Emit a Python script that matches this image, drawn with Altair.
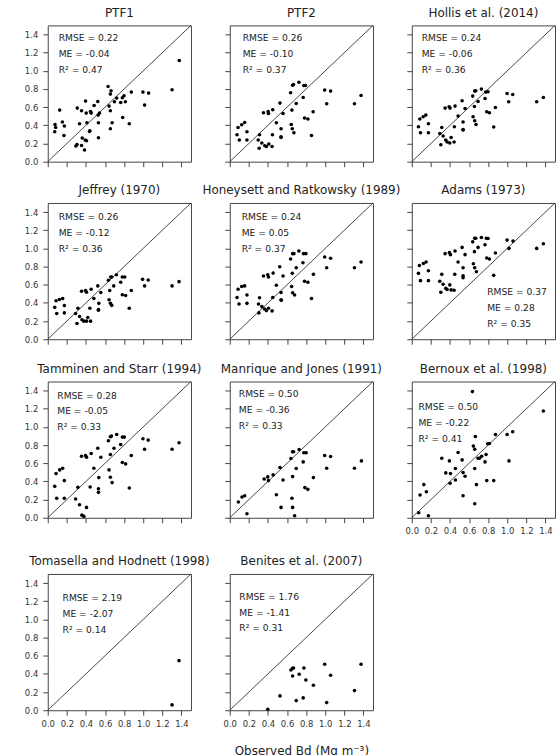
import altair as alt
import pandas as pd

# ---------------- data (observed x, predicted y) ----------------
ptf1_obs = [0.125,0.076,0.083,0.073,0.153,0.174,0.170,0.309,0.354,0.396,0.403,0.410,0.333,0.448,0.455,0.486,0.524,0.528,0.542,0.531,0.441,0.437,0.361,0.392,0.406,0.306,0.295,0.354,0.385,0.531,0.632,0.663,0.656,0.642,0.656,0.674,0.656,0.698,0.722,0.764,0.781,0.799,0.813,0.785,0.854,0.875,0.997,1.014,1.056,1.302,1.378]
ptf1_pred = [0.568,0.41,0.377,0.33,0.436,0.392,0.289,0.59,0.56,0.667,0.535,0.429,0.418,0.553,0.535,0.619,0.663,0.513,0.535,0.429,0.341,0.333,0.26,0.238,0.231,0.19,0.172,0.179,0.128,0.264,0.828,0.78,0.744,0.612,0.56,0.429,0.363,0.659,0.70,0.652,0.703,0.725,0.659,0.487,0.418,0.766,0.766,0.623,0.755,0.791,1.113]

ptf2_obs = [0.087,0.100,0.076,0.125,0.156,0.180,0.180,0.312,0.298,0.308,0.336,0.353,0.367,0.384,0.402,0.405,0.409,0.443,0.450,0.447,0.488,0.526,0.537,0.537,0.537,0.558,0.637,0.658,0.668,0.651,0.644,0.655,0.672,0.696,0.724,0.776,0.793,0.769,0.783,0.818,0.856,0.873,0.994,1.056,1.015,1.306,1.375]
ptf2_pred = [0.377,0.238,0.297,0.407,0.432,0.33,0.238,0.297,0.238,0.147,0.205,0.538,0.176,0.168,0.553,0.531,0.194,0.168,0.571,0.297,0.429,0.645,0.363,0.275,0.267,0.531,0.758,0.842,0.85,0.568,0.41,0.363,0.319,0.641,0.875,0.839,0.839,0.707,0.48,0.469,0.289,0.549,0.788,0.777,0.637,0.637,0.729]

hollis_obs = [0.084,0.070,0.091,0.119,0.147,0.174,0.174,0.293,0.314,0.304,0.328,0.349,0.356,0.370,0.391,0.401,0.398,0.412,0.443,0.453,0.446,0.485,0.527,0.537,0.537,0.537,0.558,0.638,0.659,0.670,0.656,0.642,0.659,0.673,0.694,0.729,0.774,0.799,0.767,0.785,0.813,0.858,0.876,0.998,1.057,1.015,1.308,1.378]
hollis_pred = [0.469,0.385,0.319,0.495,0.513,0.418,0.319,0.311,0.377,0.187,0.282,0.59,0.238,0.216,0.604,0.59,0.205,0.267,0.216,0.612,0.385,0.502,0.67,0.436,0.355,0.348,0.586,0.722,0.777,0.78,0.608,0.495,0.451,0.41,0.663,0.799,0.766,0.769,0.696,0.549,0.538,0.381,0.597,0.751,0.74,0.659,0.659,0.707]

jeffrey_obs = [0.087,0.122,0.156,0.073,0.094,0.174,0.174,0.292,0.316,0.306,0.333,0.354,0.358,0.378,0.396,0.406,0.406,0.420,0.448,0.455,0.441,0.483,0.524,0.535,0.531,0.531,0.556,0.635,0.660,0.670,0.649,0.642,0.656,0.670,0.691,0.719,0.781,0.806,0.764,0.781,0.816,0.854,0.875,0.993,1.052,1.014,1.302,1.375]
jeffrey_pred = [0.424,0.438,0.449,0.351,0.283,0.37,0.29,0.283,0.341,0.174,0.25,0.529,0.214,0.199,0.536,0.518,0.199,0.239,0.199,0.551,0.341,0.449,0.587,0.395,0.326,0.319,0.514,0.649,0.685,0.685,0.536,0.435,0.395,0.373,0.587,0.71,0.685,0.685,0.627,0.489,0.482,0.341,0.536,0.659,0.652,0.587,0.587,0.634]

honey_obs = [0.087,0.125,0.156,0.076,0.097,0.180,0.180,0.312,0.301,0.305,0.336,0.353,0.364,0.384,0.398,0.405,0.405,0.443,0.454,0.450,0.488,0.523,0.537,0.537,0.540,0.558,0.637,0.658,0.672,0.655,0.648,0.658,0.679,0.696,0.724,0.772,0.797,0.766,0.783,0.818,0.856,0.876,0.994,1.056,1.015,1.306,1.375]
honey_pred = [0.551,0.58,0.587,0.46,0.388,0.486,0.395,0.457,0.388,0.29,0.359,0.696,0.333,0.315,0.71,0.685,0.341,0.312,0.728,0.46,0.594,0.797,0.514,0.435,0.428,0.696,0.884,0.942,0.942,0.725,0.58,0.511,0.486,0.786,0.971,0.942,0.942,0.841,0.638,0.627,0.449,0.714,0.906,0.891,0.786,0.786,0.851]

adams_obs = [0.080,0.122,0.150,0.070,0.091,0.174,0.174,0.293,0.314,0.304,0.328,0.349,0.356,0.370,0.394,0.405,0.398,0.412,0.443,0.453,0.450,0.485,0.527,0.537,0.537,0.537,0.558,0.638,0.659,0.670,0.656,0.645,0.659,0.677,0.694,0.729,0.781,0.799,0.767,0.785,0.813,0.858,0.876,0.998,1.060,1.018,1.308,1.378]
adams_pred = [0.812,0.833,0.851,0.725,0.645,0.754,0.645,0.638,0.714,0.518,0.605,0.942,0.562,0.547,0.953,0.931,0.598,0.543,0.54,0.971,0.714,0.851,1.011,0.786,0.699,0.678,0.931,1.072,1.112,1.112,0.964,0.83,0.786,0.743,1.011,1.12,1.112,1.109,1.04,0.895,0.884,0.703,0.949,1.091,1.08,1.0,1.0,1.051]

tamm_obs = [0.073,0.094,0.087,0.125,0.156,0.174,0.174,0.292,0.316,0.333,0.354,0.358,0.378,0.396,0.406,0.406,0.444,0.455,0.483,0.524,0.535,0.531,0.531,0.556,0.635,0.656,0.667,0.642,0.656,0.674,0.656,0.694,0.722,0.781,0.802,0.764,0.781,0.816,0.854,0.875,0.997,1.052,1.014,1.302,1.375]
tamm_pred = [0.346,0.214,0.486,0.527,0.545,0.409,0.214,0.206,0.335,0.144,0.678,0.029,0.015,0.685,0.667,0.114,0.339,0.707,0.545,0.766,0.442,0.32,0.28,0.667,0.847,0.892,0.899,0.527,0.446,0.387,0.696,0.766,0.917,0.888,0.888,0.807,0.608,0.593,0.328,0.685,0.87,0.855,0.755,0.755,0.825]

manr_obs = [0.090,0.128,0.156,0.180,0.360,0.398,0.405,0.454,0.488,0.526,0.537,0.558,0.641,0.658,0.668,0.651,0.658,0.658,0.679,0.696,0.727,0.776,0.800,0.769,0.786,0.817,0.876,0.994,1.056,1.015,1.306,1.379]
manr_pred = [0.173,0.228,0.243,0.044,0.427,0.45,0.409,0.472,0.254,0.553,0.114,0.416,0.652,0.726,0.726,0.214,0.114,0.453,0.022,0.542,0.752,0.715,0.715,0.615,0.332,0.313,0.442,0.685,0.674,0.545,0.545,0.626]

bern_obs = [0.635,1.378,0.666,0.645,0.659,0.795,0.813,0.876,0.998,1.057,0.485,0.314,0.394,0.527,0.694,0.732,0.708,0.778,0.767,1.018,0.457,0.659,0.356,0.405,0.537,0.558,0.457,0.401,0.126,0.677,0.785,0.858,0.153,0.087,0.537,0.659,0.073,0.174]
bern_pred = [1.389,1.175,0.895,0.789,0.755,0.814,0.818,0.917,0.917,0.947,0.718,0.656,0.626,0.637,0.656,0.678,0.656,0.696,0.615,0.626,0.542,0.542,0.494,0.486,0.497,0.457,0.416,0.380,0.365,0.365,0.409,0.409,0.287,0.251,0.243,0.155,0.055,0.022]

toma_obs = [1.375,1.302]
toma_pred = [0.546,0.059]

beni_obs = [0.398,0.526,0.696,0.769,0.641,0.658,0.668,0.658,0.727,0.776,0.797,0.876,0.994,1.056,1.015,1.306,1.375]
beni_pred = [0.011,0.158,0.106,0.136,0.443,0.462,0.465,0.377,0.396,0.465,0.333,0.275,0.506,0.385,0.084,0.216,0.506]

titles = ["PTF1", "PTF2", "Hollis et al. (2014)", "Jeffrey (1970)",
          "Honeysett and Ratkowsky (1989)", "Adams (1973)", "Tamminen and Starr (1994)",
          "Manrique and Jones (1991)", "Bernoux et al. (1998)",
          "Tomasella and Hodnett (1998)", "Benites et al. (2007)"]
rmse = ["0.22", "0.26", "0.24", "0.26", "0.24", "0.37", "0.28", "0.50", "0.50", "2.19", "1.76"]
me = ["-0.04", "-0.10", "-0.06", "-0.12", "0.05", "0.28", "-0.05", "-0.36", "-0.22", "-2.07", "-1.41"]
r2 = ["0.47", "0.37", "0.36", "0.36", "0.37", "0.35", "0.33", "0.33", "0.41", "0.14", "0.31"]
tick_values = [0.0, 0.2, 0.4, 0.6, 0.8, 1.0, 1.2, 1.4]
line_ends = [0.0, 1.5]

series = [(ptf1_obs, ptf1_pred), (ptf2_obs, ptf2_pred), (hollis_obs, hollis_pred),
          (jeffrey_obs, jeffrey_pred), (honey_obs, honey_pred), (adams_obs, adams_pred),
          (tamm_obs, tamm_pred), (manr_obs, manr_pred), (bern_obs, bern_pred),
          (toma_obs, toma_pred), (beni_obs, beni_pred)]

# annotation anchor (data coords) for each panel: x, y of first line
ann_pos = [(0.115, 1.36), (0.135, 1.36), (0.104, 1.36), (0.115, 1.34), (0.125, 1.34),
           (0.79, 0.52), (0.10, 1.345), (0.095, 1.36), (0.07, 1.22), (0.155, 1.23), (0.10, 1.25)]

FONT = "DejaVu Sans"
W, H = 144, 137
scale = alt.Scale(domain=[0, 1.5], nice=False, zero=False)


def panel(i, show_y, show_x, xtitle=None):
    xs, ys = series[i]
    df = pd.DataFrame({"x": xs, "y": ys})
    ldf = pd.DataFrame({"x": line_ends, "y": line_ends})
    ax, ay = ann_pos[i]
    step = 0.175
    tdf = pd.DataFrame({
        "x": [ax, ax, ax],
        "y": [ay, ay - step, ay - 2 * step],
        "label": [f"RMSE = {rmse[i]}", f"ME = {me[i]}", f"R\u00b2 = {r2[i]}"],
    })
    xaxis_kw = dict(values=tick_values, labels=show_x, format=".1f", labelOverlap=False,
                    labelFlush=False)
    if xtitle:
        xaxis = alt.Axis(title=xtitle, titlePadding=18, titleFontSize=12,
                         titleFont=FONT, titleFontWeight="normal", titleColor="#222", **xaxis_kw)
    else:
        xaxis = alt.Axis(title=None, **xaxis_kw)
    yaxis = alt.Axis(title=None, values=tick_values, labels=show_y, format=".1f",
                     labelOverlap=False, labelFlush=False)
    X = alt.X("x:Q", scale=scale, axis=xaxis)
    Y = alt.Y("y:Q", scale=scale, axis=yaxis)
    line = alt.Chart(ldf).mark_line(color="#333", strokeWidth=0.9).encode(x=X, y=Y)
    pts = alt.Chart(df).mark_circle(size=13, color="black", opacity=1).encode(x=X, y=Y)
    txt = alt.Chart(tdf).mark_text(align="left", baseline="middle", font=FONT,
                                   fontSize=9.2, color="#222").encode(x=X, y=Y, text="label:N")
    return alt.layer(line, pts, txt).properties(
        width=W, height=H,
        title=alt.TitleParams(titles[i], font=FONT, fontSize=12, fontWeight="normal",
                              color="#222", offset=4))


row1 = alt.hconcat(panel(0, True, False), panel(1, False, False), panel(2, False, False),
                   spacing=39, bounds="flush")
row2 = alt.hconcat(panel(3, True, False), panel(4, False, False), panel(5, False, False),
                   spacing=39, bounds="flush")
row3 = alt.hconcat(panel(6, True, False), panel(7, False, False), panel(8, False, True),
                   spacing=39, bounds="flush")
row4 = alt.hconcat(panel(9, True, True), panel(10, False, True, xtitle="Observed Bd (Mg m\u207b\u00b3)"),
                   spacing=39, bounds="flush")

v12 = alt.vconcat(row1, row2, spacing=15.5)
v123 = alt.vconcat(v12, row3, spacing=16)
chart = alt.vconcat(v123, row4, spacing=18.5).properties(
    padding={"left": 23, "top": 3.5, "right": 0, "bottom": 5}
).configure_view(stroke="#444", strokeWidth=1).configure_axis(
    domain=False, grid=False, tickSize=5, tickColor="#444", tickWidth=1,
    labelFont=FONT, labelFontSize=8.5, labelColor="#333"
).configure_axisX(labelPadding=4).configure_axisY(labelPadding=5).configure_title(anchor="middle")

chart.save("out.html", embed_options={"renderer": "svg", "actions": False})
